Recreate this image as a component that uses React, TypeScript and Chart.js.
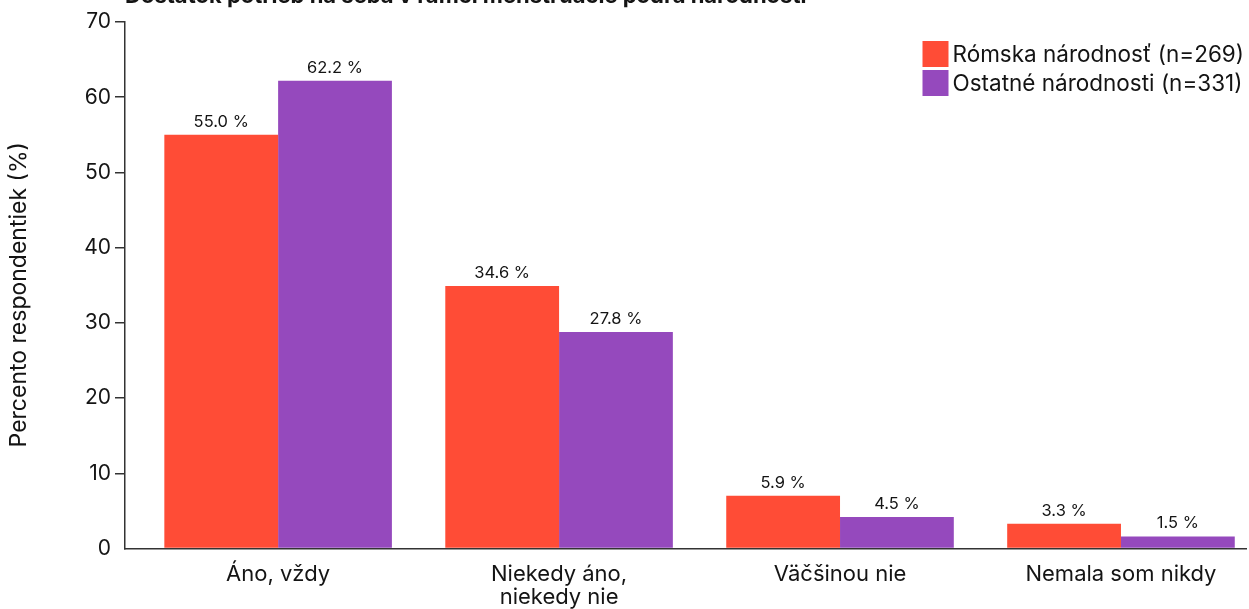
import React, { useEffect, useRef } from 'react';
import { Chart, registerables } from 'chart.js';

Chart.register(...registerables);

const chartTitle = 'Dostatok potrieb na seba v rámci menštruácie podľa národnosti';
const yAxisTitle = 'Percento respondentiek (%)';
const categories: string[][] = [
  ['Áno, vždy'],
  ['Niekedy áno,', 'niekedy nie'],
  ['Väčšinou nie'],
  ['Nemala som nikdy'],
];
const categoryPositions = [0, 1, 2, 3];
const seriesNames = ['Rómska národnosť (n=269)', 'Ostatné národnosti (n=331)'];
const seriesColors = ['#FF4C36', '#9549BD'];
const romaValues = [55.0, 34.9, 7.0, 3.3];
const otherValues = [62.2, 28.8, 4.2, 1.6];
const romaLabels = ['55.0 %', '34.6 %', '5.9 %', '3.3 %'];
const otherLabels = ['62.2 %', '27.8 %', '4.5 %', '1.5 %'];
const yMin = 0;
const yMax = 70;
const yStep = 10;

const FONT = 'Inter, "Noto Sans", sans-serif';
const TEXT = '#141414';
const AXIS = '#333333';

const valueLabelPlugin = {
  id: 'valueLabels',
  afterDatasetsDraw(chart: any) {
    const ctx = chart.ctx;
    ctx.save();
    ctx.font = `400 16.5px ${FONT}`;
    ctx.fillStyle = TEXT;
    ctx.textAlign = 'center';
    ctx.textBaseline = 'alphabetic';
    chart.data.datasets.forEach((ds: any, di: number) => {
      const meta = chart.getDatasetMeta(di);
      meta.data.forEach((el: any, i: number) => {
        ctx.fillText(ds.valueLabels[i], el.x, el.y - 8);
      });
    });
    ctx.restore();
  },
};

const yTitlePlugin = {
  id: 'yTitle',
  afterDraw(chart: any) {
    const ctx = chart.ctx;
    const area = chart.chartArea;
    ctx.save();
    ctx.font = `400 23px ${FONT}`;
    ctx.fillStyle = TEXT;
    ctx.textAlign = 'center';
    ctx.textBaseline = 'alphabetic';
    ctx.translate(26, (area.top + area.bottom) / 2 + 9.5);
    ctx.rotate(-Math.PI / 2);
    ctx.fillText(yAxisTitle, 0, 0);
    ctx.restore();
  },
};

const boxLegendPlugin = {
  id: 'boxLegend',
  afterDraw(chart: any) {
    const ctx = chart.ctx;
    const area = chart.chartArea;
    const box = 26;
    const gap = 4;
    const rowH = 29;
    ctx.save();
    ctx.font = `400 22.5px ${FONT}`;
    const widths = chart.data.datasets.map((ds: any) => ctx.measureText(ds.label).width);
    const blockW = box + gap + Math.max(...widths);
    const left = area.right - 2 - blockW;
    const top = area.top + 19;
    chart.data.datasets.forEach((ds: any, i: number) => {
      const y = top + i * rowH;
      ctx.fillStyle = ds.backgroundColor;
      ctx.fillRect(left, y, box, box);
      ctx.fillStyle = TEXT;
      ctx.textAlign = 'left';
      ctx.textBaseline = 'middle';
      ctx.fillText(ds.label, left + box + gap, y + box / 2 + 1);
    });
    ctx.restore();
  },
};

export default function App() {
  const canvasRef = useRef<HTMLCanvasElement | null>(null);

  useEffect(() => {
    if (!canvasRef.current) return;
    const chart = new Chart(canvasRef.current, {
      type: 'bar',
      data: {
        datasets: [
          {
            label: seriesNames[0],
            data: categoryPositions.map((x, i) => ({ x, y: romaValues[i] })),
            backgroundColor: seriesColors[0],
            valueLabels: romaLabels,
          } as any,
          {
            label: seriesNames[1],
            data: categoryPositions.map((x, i) => ({ x, y: otherValues[i] })),
            backgroundColor: seriesColors[1],
            valueLabels: otherLabels,
          } as any,
        ],
      },
      options: {
        animation: false,
        responsive: false,
        maintainAspectRatio: false,
        layout: { padding: { left: 0, right: 3, top: 0, bottom: 0 } },
        datasets: {
          bar: { categoryPercentage: 0.81, barPercentage: 1.0 },
        },
        plugins: {
          legend: { display: false },
          tooltip: { enabled: false },
          title: {
            display: true,
            text: chartTitle,
            align: 'start',
            fullSize: false,
            color: TEXT,
            font: { family: FONT, size: 22, weight: 'bold', lineHeight: 1.2 },
            padding: { top: -16.7, bottom: 12.3 },
          },
        },
        scales: {
          x: {
            type: 'linear',
            min: -0.545,
            max: 3.445,
            offset: false,
            grid: { display: true, drawOnChartArea: false, drawTicks: false },
            border: { display: true, color: AXIS, width: 1.5 },
            ticks: {
              stepSize: 1,
              includeBounds: false,
              autoSkip: false,
              maxRotation: 0,
              minRotation: 0,
              padding: 14,
              color: TEXT,
              font: { family: FONT, size: 22, lineHeight: 1.045 },
              callback: (v: any) => {
                const n = Number(v);
                return Number.isInteger(n) && n >= 0 && n < categories.length ? categories[n] : '';
              },
            },
            afterFit: (s: any) => {
              s.height = 60.5;
            },
          } as any,
          y: {
            type: 'linear',
            min: yMin,
            max: yMax,
            grid: {
              display: true,
              drawOnChartArea: false,
              drawTicks: true,
              tickLength: 10,
              lineWidth: 1.5,
              color: (c: any) => (c.tick && c.tick.value === 0 ? 'rgba(0,0,0,0)' : AXIS),
            },
            border: { display: true, color: AXIS, width: 1.5 },
            ticks: {
              stepSize: yStep,
              padding: 4,
              color: TEXT,
              font: { family: FONT, size: 21 },
            },
            afterFit: (s: any) => {
              s.width = 125;
            },
          } as any,
        },
      } as any,
      plugins: [valueLabelPlugin, yTitlePlugin, boxLegendPlugin],
    });
    return () => chart.destroy();
  }, []);

  return (
    <div style={{ position: 'absolute', left: 0, top: 0, width: 1249, height: 609, background: '#fff' }}>
      <canvas ref={canvasRef} width={1249} height={609} style={{ display: 'block' }} />
    </div>
  );
}
